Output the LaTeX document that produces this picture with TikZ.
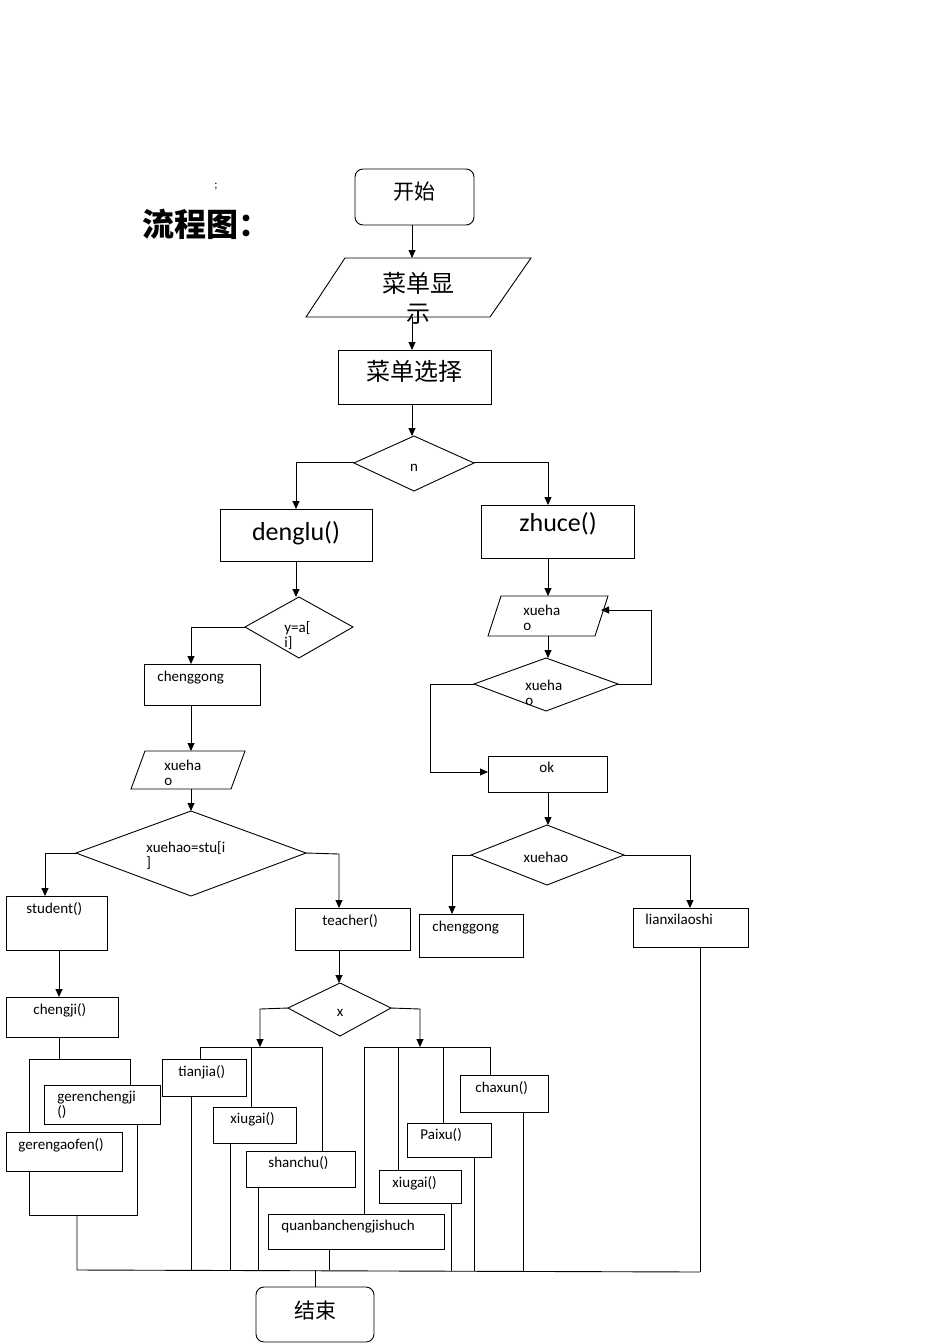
\documentclass[tikz,border=0pt]{standalone}
\usepackage{fontspec}
\setmainfont{Carlito}
\newfontfamily\cjk{Noto Sans CJK SC}
\usetikzlibrary{arrows.meta}
\begin{document}
\begin{tikzpicture}[x=1pt,y=-1pt,line width=0.9pt,
  ar/.style={-{Triangle[length=8pt,width=7pt]}},
  t/.style={font=\fontsize{15}{15}\selectfont,inner sep=0pt,anchor=north west},
  big/.style={font=\cjk\fontsize{24}{30}\selectfont,inner sep=0pt}]
\useasboundingbox (0,0) rectangle (950,1344);
\node[font=\fontsize{12}{12}\selectfont] (semi) at (216,187) {;};
\node[font=\cjk\bfseries\fontsize{32}{32}\selectfont] (title) at (206,224) {流程图：};
% start
\draw[rounded corners=8pt] (355,169) rectangle (474,225);
\node[big,font=\cjk\fontsize{21}{21}\selectfont] (start) at (414,192) {开始};
\coordinate (sb) at (412,225);
\draw (306,317)--(345,258)--(531,258)--(490,317)--cycle;
\node[big,align=center] (disp) at (418,298) {菜单显\\示};
\draw (338,350) rectangle (491,404);
\node[big] (sel) at (414,371) {菜单选择};
\draw[ar] (412,225)--(412,258);
\draw[ar] (412,317)--(412,350);
\draw[ar] (412,404)--(412,436);
\draw (354,463)--(414,436)--(474,463)--(414,491)--cycle;
\node[t,anchor=center] (n) at (414,468) {n};
\draw[ar] (354,462)--(296,462)--(296,509);
\draw[ar] (474,462)--(548,462)--(548,505);
\draw (220,509) rectangle (372,561);
\node[font=\fontsize{26}{26}\selectfont] (denglu) at (296,533) {denglu()};
\draw (481,505) rectangle (634,558);
\node[font=\fontsize{26}{26}\selectfont] (zhuce) at (558,524) {zhuce()};
% left branch
\draw[ar] (296,561)--(296,597);
\draw (245,627)--(299,597)--(353,627)--(299,658)--cycle;
\node[t,align=left] (ya) at (284,621) {y=a[\\i]};
\draw[ar] (245,627)--(191,627)--(191,664);
\draw (144,664) rectangle (260,705);
\node[t] (cg1) at (157,671) {chenggong};
\draw[ar] (191,705)--(191,751);
\draw (131,789)--(145,751)--(245,751)--(231,789)--cycle;
\node[t,align=left] (xh1) at (164,760) {xueha\\o};
\draw[ar] (191,789)--(191,811);
\draw (76,853)--(191,811)--(306,853)--(191,896)--cycle;
\node[t,align=left] (xs) at (146,841) {xuehao=stu[i\\]};
\draw[ar] (76,853)--(45,853)--(45,896);
\draw[ar] (306,853)--(339,854)--(339,908);
\draw (6,896) rectangle (107,950);
\node[t] (stu) at (26,902) {student()};
\draw (295,908) rectangle (410,950);
\node[t] (tea) at (322,914) {teacher()};
\draw[ar] (59,950)--(59,997);
\draw (6,997) rectangle (118,1037);
\node[t] (cj) at (33,1003) {chengji()};
\draw (59,1037)--(59,1059);
\draw (29,1132)--(29,1059)--(130,1059)--(130,1085);
\draw (44,1085) rectangle (160,1124);
\node[t,align=left] (grcj) at (57,1091) {gerenchengji\\()};
\draw (6,1132) rectangle (122,1171);
\node[t] (grgf) at (18,1138) {gerengaofen()};
\draw (29,1171)--(29,1215)--(137,1215)--(137,1124);
\draw (77,1215)--(77,1270)--(700,1272);
% teacher branch
\draw[ar] (339,950)--(339,983);
\draw (288,1008)--(340,983)--(391,1008)--(340,1036)--cycle;
\node[t,anchor=center] (x) at (340,1013) {x};
\draw[ar] (288,1008)--(260,1009)--(260,1047);
\draw (200,1059)--(200,1047)--(322,1047)--(322,1151);
\draw (251,1047)--(251,1107);
\draw (162,1059) rectangle (246,1096);
\node[t] (tj) at (178,1065) {tianjia()};
\draw (213,1107) rectangle (296,1143);
\node[t] (xg1) at (230,1112) {xiugai()};
\draw (246,1151) rectangle (355,1187);
\node[t] (sc) at (268,1156) {shanchu()};
\draw (191,1096)--(191,1270);
\draw (230,1143)--(230,1270);
\draw (258,1187)--(258,1270);
\draw[ar] (391,1008)--(420,1009)--(420,1047);
\draw (364,1214)--(364,1047)--(490,1047)--(490,1075);
\draw (398,1047)--(398,1170);
\draw (443,1047)--(443,1123);
\draw (460,1075) rectangle (548,1112);
\node[t] (cx) at (475,1081) {chaxun()};
\draw (407,1123) rectangle (491,1157);
\node[t] (px) at (420,1128) {Paixu()};
\draw (379,1170) rectangle (461,1203);
\node[t] (xg2) at (392,1176) {xiugai()};
\draw (268,1214) rectangle (444,1249);
\node[t] (qb) at (281,1220) {quanbanchengjishuch};
\draw (523,1112)--(523,1271);
\draw (474,1157)--(474,1271);
\draw (451,1203)--(451,1271);
\draw (329,1249)--(329,1270);
% end
\draw (315,1270)--(315,1287);
\draw[rounded corners=8pt] (256,1287) rectangle (374,1342);
\node[font=\cjk\fontsize{21}{21}\selectfont] (end) at (315,1310) {结束};
% right branch
\draw[ar] (548,558)--(548,596);
\draw (488,636)--(501,596)--(608,596)--(595,636)--cycle;
\node[t,align=left] (xh2) at (523,605) {xueha\\o};
\draw[ar] (548,636)--(548,658);
\draw (474,684)--(546,658)--(618,684)--(546,711)--cycle;
\node[t,align=left] (xh3) at (525,680) {xueha\\o};
\draw[ar] (618,684)--(651,684)--(651,610)--(601,610);
\draw[ar] (474,684)--(430,684)--(430,772)--(488,772);
\draw (488,756) rectangle (607,792);
\node[t] (ok) at (539,762) {ok};
\draw[ar] (548,792)--(548,825);
\draw (471,855)--(547,825)--(624,855)--(547,885)--cycle;
\node[t,anchor=center] (xh4) at (546,857) {xuehao};
\draw[ar] (471,855)--(452,855)--(452,914);
\draw[ar] (624,855)--(690,855)--(690,908);
\draw (419,914) rectangle (523,957);
\node[t] (cg2) at (432,921) {chenggong};
\draw (633,908) rectangle (748,947);
\node[t] (lx) at (645,914) {lianxilaoshi};
\draw (700,947)--(700,1272);
\end{tikzpicture}
\end{document}
